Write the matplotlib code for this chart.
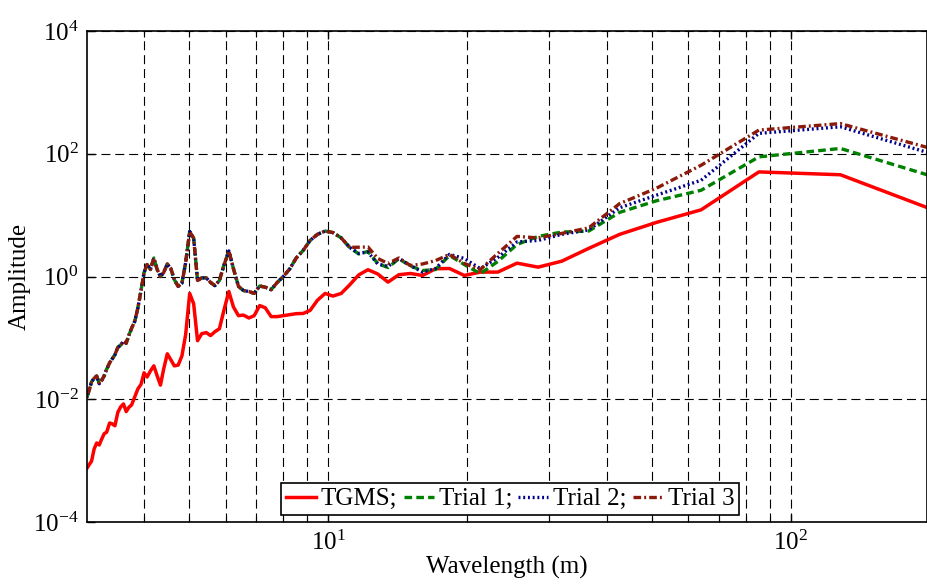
import numpy as np
import matplotlib
matplotlib.use("Agg")
import matplotlib.pyplot as plt
from matplotlib import ticker

plt.rcParams['font.family'] = ['Liberation Serif', 'DejaVu Serif']
plt.rcParams['mathtext.fontset'] = 'custom'
plt.rcParams['mathtext.rm'] = 'Liberation Serif'
plt.rcParams['mathtext.it'] = 'Liberation Serif:italic'
plt.rcParams['axes.unicode_minus'] = False
plt.rcParams['lines.scale_dashes'] = False

# Wavelengths (m), longest first
wavelength = [256.0, 128.0, 85.33, 64.0, 51.2, 42.67, 36.57, 32.0, 28.44, 25.6,
              23.27, 21.33, 19.69, 18.29, 17.07, 16.0, 15.06, 14.22, 13.47, 12.8,
              12.19, 11.64, 11.13, 10.67, 10.24, 9.85, 9.48, 9.14, 8.83, 8.53,
              8.26, 8.0, 7.76, 7.53, 7.31, 7.11, 6.92, 6.74, 6.56, 6.4,
              6.24, 6.10, 5.95, 5.82, 5.69, 5.57, 5.45, 5.33, 5.22, 5.12,
              5.02, 4.92, 4.83, 4.74, 4.65, 4.57, 4.49, 4.41, 4.34, 4.27,
              4.20, 4.13, 4.06, 4.00, 3.94, 3.88, 3.82, 3.76, 3.71, 3.66,
              3.61, 3.56, 3.51, 3.46, 3.41, 3.37, 3.32, 3.28, 3.24, 3.20,
              3.16, 3.12, 3.08, 3.05, 3.01]

tgms = [6.3, 45.5, 50.6, 12.2, 7.6, 4.86, 2.87, 1.78, 1.42, 1.65,
        1.18, 1.18, 1.04, 1.35, 1.34, 1.04, 1.12, 1.07, 0.81, 1.1,
        1.29, 1.06, 0.73, 0.53, 0.48, 0.53, 0.41, 0.28, 0.25, 0.248,
        0.239, 0.23, 0.222, 0.222, 0.31, 0.336, 0.23, 0.211, 0.235, 0.23,
        0.32, 0.57, 0.278, 0.141, 0.126, 0.109, 0.122, 0.117, 0.09, 0.36,
        0.53, 0.113, 0.051, 0.036, 0.035, 0.044, 0.055, 0.031, 0.017, 0.024,
        0.035, 0.029, 0.023, 0.027, 0.0175, 0.0148, 0.011, 0.0081, 0.0074, 0.0063,
        0.0084, 0.0075, 0.0061, 0.0037, 0.0040, 0.0041, 0.0029, 0.00275, 0.00225, 0.0018,
        0.00194, 0.00155, 0.00098, 0.00088, 0.00075]

# the three trials coincide for wavelengths below ~11 m
trials_short = [2.98, 4.26, 5.2, 5.5, 4.86, 3.87, 2.66, 2.0,
                1.33, 1.0, 0.80, 0.61, 0.67, 0.70, 0.53, 0.57, 0.59, 0.69,
                1.35, 2.61, 1.51, 0.86, 0.71, 0.80, 0.95, 0.95, 0.86, 4.2,
                5.4, 1.69, 0.78, 0.69, 0.89, 1.35, 1.6, 1.16, 1.0, 1.3,
                2.0, 1.3, 1.57, 1.16, 0.59, 0.311, 0.187, 0.144, 0.111, 0.082,
                0.088, 0.076, 0.070, 0.0531, 0.0449, 0.0393, 0.0308, 0.0241, 0.0204, 0.0179,
                0.024, 0.022, 0.0192, 0.0148, 0.0107]

trial1_long = [25, 122, 89, 25.4, 17.1, 11.1, 5.5, 5.3, 4.5, 3.33, 1.76,
               1.11, 1.57, 2.2, 1.30, 1.25, 1.48, 1.95, 1.40, 1.63, 2.56, 2.33]
trial2_long = [59, 275, 215, 37, 21.1, 13.2, 5.75, 4.86, 3.87, 3.66, 2.04,
               1.34, 1.97, 2.29, 1.35, 1.18, 1.51, 1.97, 1.46, 1.6, 2.5, 2.38]
trial3_long = [74, 310, 243, 65, 27.4, 15.4, 6.2, 5.04, 4.26, 4.5, 2.38,
               1.30, 1.63, 2.29, 1.82, 1.6, 1.51, 2.0, 1.63, 1.97, 3.03, 3.0]

trial1 = trial1_long + trials_short
trial2 = trial2_long + trials_short
trial3 = trial3_long + trials_short

fig = plt.figure(figsize=(9.27, 5.86), dpi=100)
ax = fig.add_axes([0.0939, 0.1092, 0.9061, 0.8379])

ax.plot(wavelength, tgms, color='#ff0000', lw=2.5, label='TGMS;')
ax.plot(wavelength, trial1, color='#008000', lw=2.4, linestyle=(0, (5.5, 3)), label='Trial 1;')
ax.plot(wavelength, trial2, color='#00008b', lw=2.4, linestyle=(0, (1.4, 2.0)), label='Trial 2;')
ax.plot(wavelength, trial3, color='#8b1a0a', lw=2.4, linestyle=(0, (5.5, 2.2, 1.4, 2.2)), label='Trial 3')

ax.set_xscale('log')
ax.set_yscale('log')
ax.set_xlim(256 / 85, 197)
ax.set_ylim(1e-4, 1e4)
ax.set_yticks([1e-4, 1e-2, 1, 1e2, 1e4])
ax.yaxis.set_minor_locator(ticker.NullLocator())
ax.xaxis.set_minor_locator(ticker.LogLocator(base=10, subs=np.arange(2, 10)))
ax.xaxis.set_minor_formatter(ticker.NullFormatter())

ax.grid(True, which='major', axis='both', color='k', lw=0.8, linestyle=(0, (6.5, 3.5)))
ax.grid(True, which='minor', axis='x', color='k', lw=0.8, linestyle=(0, (6.5, 3.5)))

ax.tick_params(which='both', direction='in', top=True, labelsize=18, pad=6)
ax.tick_params(which='major', length=6, width=1)
ax.tick_params(which='minor', length=4, width=0.8)
for s in ax.spines.values():
    s.set_linewidth(1.2)

ax.set_xlabel('Wavelength (m)', fontsize=18, labelpad=1)
ax.set_ylabel('Amplitude', fontsize=18, labelpad=2)

leg = ax.legend(loc='center', bbox_to_anchor=(0.504, 0.0468), ncol=4,
                fontsize=18, handlelength=1.2, handletextpad=0.2,
                columnspacing=0.25, borderpad=0.18, borderaxespad=0,
                fancybox=False, framealpha=1, edgecolor='k')
leg.get_frame().set_linewidth(1.2)

fig.savefig('out.png', dpi=100)
